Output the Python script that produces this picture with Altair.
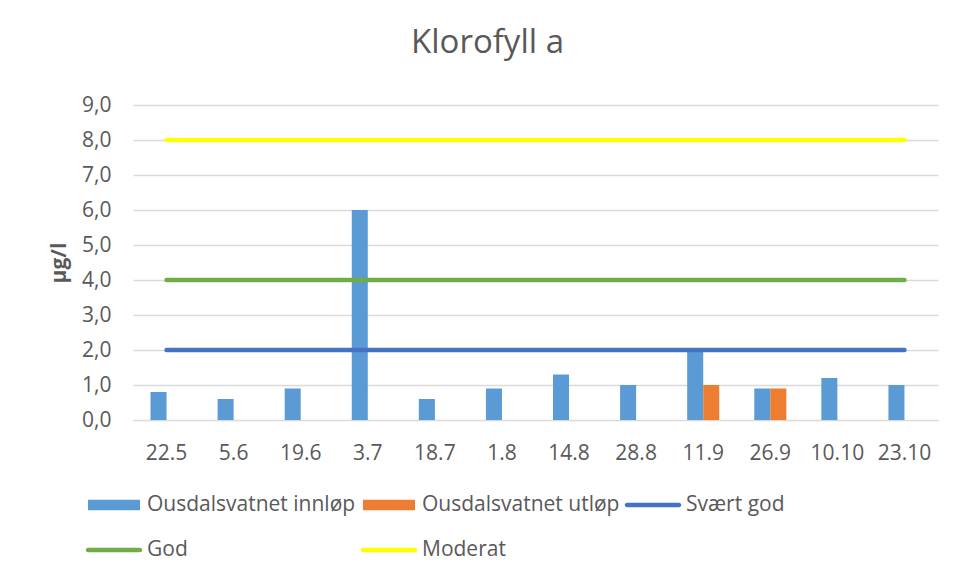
import altair as alt
import pandas as pd

dates = ["22.5", "5.6", "19.6", "3.7", "18.7", "1.8", "14.8", "28.8", "11.9", "26.9", "10.10", "23.10"]
innlop = [0.8, 0.6, 0.9, 6.0, 0.6, 0.9, 1.3, 1.0, 2.0, 0.9, 1.2, 1.0]
utlop = [None, None, None, None, None, None, None, None, 1.0, 0.9, None, None]

bar_series = ["Ousdalsvatnet innløp", "Ousdalsvatnet utløp"]
line_series = ["Svært god", "God", "Moderat"]
line_levels = [2.0, 4.0, 8.0]
y_ticks = [0, 1, 2, 3, 4, 5, 6, 7, 8, 9]

all_series = bar_series + line_series
colors = ["#5B9BD5", "#ED7D31", "#4472C4", "#70AD47", "#FFFF00"]

rect_path = "M-2,-0.4H2V0.4H-2Z"
line_path = "M-2,-0.17H2A0.17,0.17 0 0 1 2,0.17H-2A0.17,0.17 0 0 1 -2,-0.17Z"
shapes = [rect_path, rect_path, line_path, line_path, line_path]

bar_rows = []
for name, vals in zip(bar_series, [innlop, utlop]):
    for d, v in zip(dates, vals):
        if v is not None:
            bar_rows.append({"dato": d, "serie": name, "verdi": v})
bars_df = pd.DataFrame(bar_rows)

line_rows = []
for name, lvl in zip(line_series, line_levels):
    for d in dates:
        line_rows.append({"dato": d, "serie": name, "verdi": lvl})
lines_df = pd.DataFrame(line_rows)

FONT = "Open Sans"
GRAY = "#595959"
FS = 21

color_scale = alt.Scale(domain=all_series, range=colors)

x_axis = alt.Axis(
    title=None, labelAngle=0, ticks=False, domainColor="#D9D9D9",
    labelFont=FONT, labelFontSize=FS, labelColor=GRAY, labelPadding=22,
    grid=False,
)
y_axis = alt.Axis(
    title="µg/l", titleFont=FONT, titleFontSize=FS, titleFontWeight="bold",
    titleColor=GRAY, titlePadding=12,
    values=y_ticks, labelOverlap=False,
    labelExpr="replace(format(datum.value, '.1f'), '.', ',')",
    labelFont=FONT, labelFontSize=FS, labelColor=GRAY, labelPadding=22,
    ticks=False, domain=False, gridColor="#D9D9D9", gridWidth=1.3,
)
x_scale = alt.Scale(paddingInner=0.522, paddingOuter=0.261)
y_scale = alt.Scale(domain=[0, 9], nice=False)

legend_def = alt.Legend(
    title=None, orient="none", legendX=-32, legendY=387, columns=3,
    direction="horizontal",
    labelFont=FONT, labelFontSize=FS, labelColor=GRAY,
    symbolSize=676, symbolStrokeWidth=0, labelOffset=20,
    columnPadding=4, rowPadding=22, labelLimit=400,
)

bars = alt.Chart(bars_df).mark_bar().encode(
    x=alt.X("dato:N", sort=dates, scale=x_scale, axis=x_axis),
    xOffset=alt.XOffset("serie:N", sort=bar_series,
                        scale=alt.Scale(domain=bar_series, paddingInner=0, paddingOuter=0)),
    y=alt.Y("verdi:Q", scale=y_scale, axis=y_axis),
    color=alt.Color("serie:N", scale=color_scale, legend=legend_def),
)

lines = alt.Chart(lines_df).mark_line(strokeWidth=4.5, strokeCap="round").encode(
    x=alt.X("dato:N", sort=dates, scale=x_scale, axis=x_axis),
    y=alt.Y("verdi:Q", scale=y_scale, axis=y_axis),
    color=alt.Color("serie:N", scale=color_scale, legend=legend_def),
    detail="serie:N",
)

legend_layer = alt.Chart(lines_df).mark_point(filled=True, opacity=1, size=676).encode(
    color=alt.Color("serie:N", scale=color_scale, legend=legend_def),
    shape=alt.Shape("serie:N", scale=alt.Scale(domain=all_series, range=shapes), legend=legend_def),
).transform_filter("false")

chart = alt.layer(bars, lines, legend_layer).properties(
    width=805,
    height=315,
    title=alt.TitleParams(
        "Klorofyll a", font=FONT, fontSize=33, fontWeight="normal",
        color=GRAY, anchor="middle", dx=-48, offset=34,
    ),
    autosize=alt.AutoSizeParams(type="none"),
    padding={"left": 125, "top": 97, "right": 9, "bottom": 150},
).configure_view(stroke=None)

chart.save("out.html", embed_options={"renderer": "svg", "actions": False})
